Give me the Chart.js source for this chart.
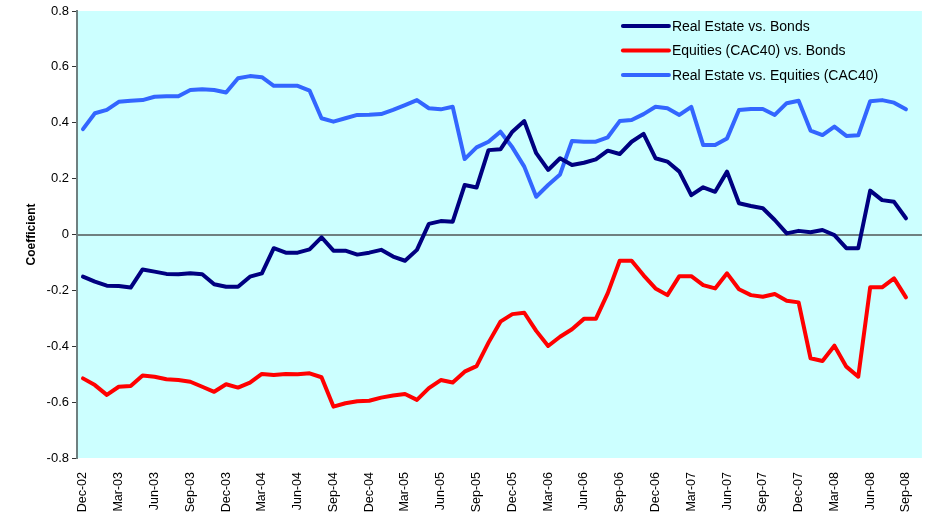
<!DOCTYPE html>
<html>
<head>
<meta charset="utf-8">
<script src="https://cdn.jsdelivr.net/npm/chart.js@4/dist/chart.umd.min.js"></script>
<style>
  body { margin: 0; background: #fff; }
</style>
</head>
<body>
<canvas id="corrChart" width="927" height="517"></canvas>
<script>
// monthly points, Dec-02 .. Sep-08
const months = [
  'Dec-02', 'Jan-03', 'Feb-03', 'Mar-03', 'Apr-03', 'May-03', 'Jun-03', 'Jul-03', 'Aug-03', 'Sep-03', 'Oct-03', 'Nov-03',
  'Dec-03', 'Jan-04', 'Feb-04', 'Mar-04', 'Apr-04', 'May-04', 'Jun-04', 'Jul-04', 'Aug-04', 'Sep-04', 'Oct-04', 'Nov-04',
  'Dec-04', 'Jan-05', 'Feb-05', 'Mar-05', 'Apr-05', 'May-05', 'Jun-05', 'Jul-05', 'Aug-05', 'Sep-05', 'Oct-05', 'Nov-05',
  'Dec-05', 'Jan-06', 'Feb-06', 'Mar-06', 'Apr-06', 'May-06', 'Jun-06', 'Jul-06', 'Aug-06', 'Sep-06', 'Oct-06', 'Nov-06',
  'Dec-06', 'Jan-07', 'Feb-07', 'Mar-07', 'Apr-07', 'May-07', 'Jun-07', 'Jul-07', 'Aug-07', 'Sep-07', 'Oct-07', 'Nov-07',
  'Dec-07', 'Jan-08', 'Feb-08', 'Mar-08', 'Apr-08', 'May-08', 'Jun-08', 'Jul-08', 'Aug-08', 'Sep-08'
]

const realEstateBonds = [
  -0.151, -0.169, -0.183, -0.184, -0.190, -0.125, -0.133, -0.141, -0.142, -0.139,
  -0.142, -0.178, -0.187, -0.187, -0.151, -0.139, -0.049, -0.065, -0.065, -0.053,
  -0.010, -0.058, -0.058, -0.072, -0.065, -0.055, -0.079, -0.094, -0.055, 0.038,
  0.048, 0.046, 0.177, 0.168, 0.302, 0.305, 0.368, 0.406, 0.291, 0.231,
  0.273, 0.249, 0.257, 0.269, 0.300, 0.288, 0.332, 0.360, 0.273, 0.261,
  0.225, 0.141, 0.169, 0.153, 0.225, 0.112, 0.102, 0.094, 0.052, 0.004,
  0.013, 0.008, 0.016, -0.002, -0.049, -0.049, 0.157, 0.123, 0.117, 0.058
]

const equitiesBonds = [
  -0.515, -0.539, -0.574, -0.545, -0.542, -0.505, -0.509, -0.518, -0.521, -0.527,
  -0.545, -0.563, -0.536, -0.548, -0.530, -0.499, -0.503, -0.499, -0.500, -0.497,
  -0.511, -0.616, -0.604, -0.597, -0.595, -0.584, -0.576, -0.571, -0.592, -0.550,
  -0.521, -0.530, -0.491, -0.471, -0.387, -0.312, -0.285, -0.280, -0.345, -0.399,
  -0.366, -0.339, -0.302, -0.302, -0.210, -0.094, -0.094, -0.146, -0.193, -0.217,
  -0.149, -0.149, -0.181, -0.193, -0.139, -0.196, -0.217, -0.223, -0.213, -0.237,
  -0.243, -0.443, -0.453, -0.398, -0.473, -0.509, -0.189, -0.189, -0.157, -0.225
]

const realEstateEquities = [
  0.377, 0.434, 0.446, 0.475, 0.479, 0.481, 0.493, 0.495, 0.495, 0.517,
  0.520, 0.517, 0.508, 0.559, 0.567, 0.563, 0.532, 0.532, 0.532, 0.515,
  0.416, 0.404, 0.416, 0.428, 0.429, 0.431, 0.446, 0.463, 0.481, 0.452,
  0.448, 0.457, 0.270, 0.312, 0.332, 0.368, 0.312, 0.243, 0.135, 0.177,
  0.215, 0.335, 0.332, 0.332, 0.348, 0.406, 0.410, 0.431, 0.457, 0.452,
  0.428, 0.457, 0.320, 0.320, 0.344, 0.446, 0.449, 0.449, 0.428, 0.470,
  0.479, 0.372, 0.356, 0.386, 0.353, 0.355, 0.477, 0.481, 0.472, 0.448
]

const seriesNames = ['Real Estate vs. Bonds', 'Equities (CAC40) vs. Bonds', 'Real Estate vs. Equities (CAC40)']
const seriesColors = ['#000080', '#ff0000', '#3366ff']

const FONT = 'Liberation Sans, Arial, sans-serif'
const EXTRA_RIGHT = 10 // plot frame runs a little past the last category

// cyan plot area + zero line
const plotBg = {
  id: 'plotBg',
  beforeDraw(chart) {
    const { ctx, chartArea: a } = chart
    ctx.save()
    ctx.fillStyle = '#ccffff'
    ctx.fillRect(a.left, a.top, a.right - a.left + EXTRA_RIGHT, a.bottom - a.top)
    ctx.restore()
  },
  beforeDatasetsDraw(chart) {
    const { ctx, chartArea: a } = chart
    const y0 = Math.round(chart.scales.y.getPixelForValue(0))
    ctx.save()
    ctx.strokeStyle = '#6f8080'
    ctx.lineWidth = 2
    ctx.beginPath()
    ctx.moveTo(a.left, y0)
    ctx.lineTo(a.right + EXTRA_RIGHT, y0)
    ctx.stroke()
    ctx.restore()
  }
}

// legend sits inside the plot, top right
const insideLegend = {
  id: 'insideLegend',
  afterDraw(chart) {
    const { ctx, chartArea: a } = chart
    const x0 = a.right - 289
    const y0 = a.top + 15
    ctx.save()
    ctx.font = '14px ' + FONT
    ctx.textBaseline = 'middle'
    chart.data.datasets.forEach((ds, i) => {
      const y = y0 + i * 24.5
      ctx.strokeStyle = ds.borderColor
      ctx.lineWidth = 4
      ctx.lineCap = 'round'
      ctx.beginPath()
      ctx.moveTo(x0, y)
      ctx.lineTo(x0 + 46, y)
      ctx.stroke()
      ctx.fillStyle = '#000'
      ctx.fillText(ds.label, x0 + 49, y + 1)
    })
    ctx.restore()
  }
}

const datasets = [realEstateBonds, equitiesBonds, realEstateEquities].map((d, i) => ({
  label: seriesNames[i],
  data: d,
  borderColor: seriesColors[i],
  backgroundColor: seriesColors[i],
  borderWidth: 4,
  pointRadius: 0,
  tension: 0,
  borderJoinStyle: 'round',
  borderCapStyle: 'round'
}))

new Chart(document.getElementById('corrChart'), {
  type: 'line',
  data: { labels: months, datasets: datasets },
  options: {
    responsive: false,
    animation: false,
    layout: { padding: { top: 11, right: 5, left: 24, bottom: 0 } },
    plugins: {
      legend: { display: false },
      tooltip: { enabled: false }
    },
    scales: {
      x: {
        offset: true,
        border: { display: false },
        grid: { display: false },
        ticks: {
          autoSkip: false,
          maxRotation: 90,
          minRotation: 90,
          padding: 6,
          color: '#000',
          font: { family: FONT, size: 12.5 },
          callback(v, i) { return i % 3 === 0 ? months[i] : '' }
        },
        afterFit(scale) { scale.height = 59 }
      },
      y: {
        min: -0.8,
        max: 0.8,
        border: { display: true, color: '#6f8080', width: 2 },
        grid: {
          drawOnChartArea: false,
          tickColor: '#333',
          tickLength: 5,
          tickWidth: 1
        },
        ticks: {
          stepSize: 0.2,
          padding: 3,
          color: '#000',
          font: { family: FONT, size: 13 },
          callback: v => String(Number(v.toFixed(1)))
        },
        title: {
          display: true,
          text: 'Coefficient',
          color: '#000',
          padding: { top: 0, bottom: 0 },
          font: { family: FONT, size: 12, weight: 'bold' }
        },
        afterFit(scale) { scale.width = 53 }
      }
    }
  },
  plugins: [plotBg, insideLegend]
})
</script>
</body>
</html>
